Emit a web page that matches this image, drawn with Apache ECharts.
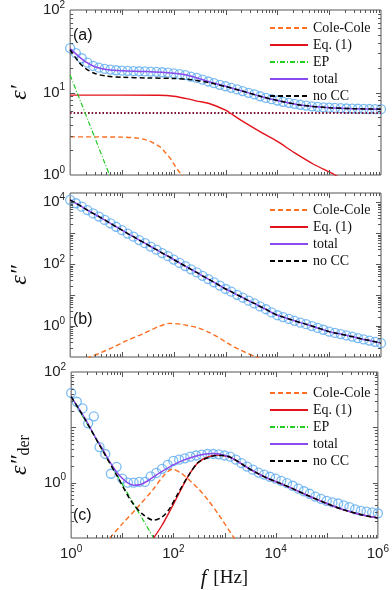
<!DOCTYPE html>
<html>
<head>
<meta charset="utf-8">
<script src="https://cdn.jsdelivr.net/npm/echarts@6/dist/echarts.min.js"></script>
<style>
  html, body { margin: 0; padding: 0; background: #fff; }
  #chart { width: 392px; height: 590px; }
</style>
</head>
<body>
<div id="chart"></div>
<script>
// measured frequencies of the open circles (Hz)
var fPts = [1, 1.29, 1.67, 2.15, 2.78, 3.59, 4.64, 5.99, 7.74,
  10, 12.9, 16.7, 21.5, 27.8, 35.9, 46.4, 59.9, 77.4,
  100, 129, 167, 215, 278, 359, 464, 599, 774,
  1000, 1290, 1670, 2150, 2780, 3590, 4640, 5990, 7740,
  1e4, 1.29e4, 1.67e4, 2.15e4, 2.78e4, 3.59e4, 4.64e4, 5.99e4, 7.74e4,
  1e5, 1.29e5, 1.67e5, 2.15e5, 2.78e5, 3.59e5, 4.64e5, 5.99e5, 7.74e5, 1e6];

// (a) eps'
var aPts = [34.6, 30, 26, 23, 21, 20, 19.3, 18.9, 18.6,
  18.4, 18.3, 18.2, 18.1, 18.0, 17.9, 17.8, 17.6, 17.4,
  17.1, 16.7, 16.2, 15.6, 15.0, 14.3, 13.6, 13.0, 12.4,
  11.9, 11.4, 10.9, 10.4, 9.9, 9.5, 9.0, 8.6, 8.3,
  8.0, 7.7, 7.5, 7.3, 7.1, 6.95, 6.8, 6.7, 6.6,
  6.55, 6.5, 6.45, 6.4, 6.38, 6.35, 6.33, 6.31, 6.3, 6.28];
var aLineF = [1, 1.5, 2, 3, 5, 10, 30, 100, 200, 500, 1000, 2000, 5000, 1e4, 3e4, 1e5, 3e5, 1e6];
var aTotal = [34, 27, 23.5, 20.5, 19, 18.3, 18.0, 17.1, 16.0, 13.4, 11.9, 10.5, 8.9, 8.0, 7.0, 6.55, 6.36, 6.28];
var aNoCC  = [33, 23, 19.5, 17, 15.8, 15.3, 15.0, 14.8, 14.4, 13.1, 11.8, 10.5, 8.9, 8.0, 7.0, 6.55, 6.36, 6.28];
var aEqF = [1, 10, 50, 100, 200, 300, 464, 1000, 1240, 2000, 5270, 1e4, 2.16e4, 5e4, 1.3e5, 3e5];
var aEq  = [9.3, 9.3, 9.25, 9.0, 8.3, 7.8, 7.4, 6.1, 5.6, 4.6, 3.2, 2.55, 1.85, 1.35, 1.0, 0.72];
var aCCF = [1, 10, 20, 30, 40, 55, 70, 85, 100, 120, 141, 170];
var aCC  = [2.9, 2.88, 2.8, 2.65, 2.45, 2.18, 1.85, 1.6, 1.36, 1.15, 1.0, 0.85];
var aEPF = [1, 5.75, 8];
var aEP  = [16.3, 1.0, 0.59];
var aInfF = [1, 1e6];
var aInf  = [5.64, 5.64];

// (b) eps''
var bPts = [12020, 9330, 7240, 5620, 4365, 3470, 2690, 2090, 1620,
  1260, 977, 776, 603, 479, 372, 295, 229, 182,
  141, 110, 87, 68, 54, 42, 33, 26, 20.4,
  15.8, 12.9, 10.2, 8.3, 6.6, 5.4, 4.3, 3.5, 2.75,
  2.24, 1.95, 1.70, 1.48, 1.29, 1.15, 1.0, 0.87, 0.76,
  0.66, 0.60, 0.55, 0.50, 0.457, 0.41, 0.37, 0.34, 0.31, 0.28];
var bCCF = [1.5, 2.45, 4, 6.5, 12, 26.7, 50, 85, 150, 300, 464, 700, 1090, 1900, 3900, 6000];
var bCC  = [0.07, 0.1, 0.14, 0.2, 0.33, 0.58, 0.95, 1.22, 1.12, 0.86, 0.64, 0.45, 0.28, 0.17, 0.1, 0.075];

// (c) eps''_der
var cPts = [42, 29, 22, 11.8, 15.8, 4.4, 3.3, 1.45, 1.93,
  1.18, 1.0, 1.0, 1.03, 1.03, 1.3, 1.5, 1.78, 2.1,
  2.47, 2.6, 2.75, 2.95, 3.1, 3.2, 3.3, 3.3, 3.25,
  3.1, 2.95, 2.6, 2.25, 1.95, 1.72, 1.52, 1.4, 1.28,
  1.18, 1.08, 0.98, 0.88, 0.78, 0.7, 0.63, 0.56, 0.51,
  0.47, 0.44, 0.42, 0.39, 0.36, 0.33, 0.31, 0.3, 0.29, 0.28];
var cLineF = [1, 1.5, 2, 3, 4, 6, 8, 10, 13, 17, 22, 30, 45, 60, 100, 150, 250, 400, 600, 900, 1500, 2500, 4000, 7000, 1.2e4, 2.15e4, 4e4, 1e5, 2e5, 5e5, 1e6];
var cTotal = [36, 20, 13, 6.5, 4.2, 2.2, 1.5, 1.2, 0.98, 0.9, 0.92, 1.05, 1.35, 1.6, 2.1, 2.5, 2.95, 3.25, 3.35, 3.2, 2.7, 2.0, 1.55, 1.2, 0.98, 0.78, 0.6, 0.42, 0.33, 0.26, 0.23];
var cNoCCF = [1, 2, 4, 8, 15.3, 25, 41, 60, 84, 130, 196, 302, 464, 700, 1000, 1500, 2500, 4000, 7000, 1.2e4, 2.15e4, 4e4, 1e5, 2e5, 5e5, 1e6];
var cNoCC  = [36, 12.5, 4.0, 1.3, 0.45, 0.27, 0.21, 0.24, 0.34, 0.7, 1.33, 2.3, 2.8, 3.1, 3.1, 2.7, 2.0, 1.55, 1.2, 0.98, 0.78, 0.6, 0.42, 0.33, 0.26, 0.23];
var cEqF = [41, 60, 84, 130, 196, 302, 464, 700, 1000, 1500, 2500, 4000, 7000, 1.2e4, 2.15e4, 4e4, 1e5, 2e5, 5e5, 1e6];
var cEq  = [0.1, 0.17, 0.3, 0.65, 1.33, 2.3, 2.9, 3.15, 3.05, 2.7, 2.0, 1.55, 1.2, 0.98, 0.78, 0.6, 0.42, 0.33, 0.26, 0.23];
var cEPF = [1, 41];
var cEP  = [36, 0.1];
var cCCF = [5.7, 10, 20, 40, 65, 95, 140, 220, 300, 464, 800, 1540, 2000];
var cCC  = [0.1, 0.18, 0.36, 0.75, 1.35, 1.75, 1.5, 1.05, 0.8, 0.5, 0.25, 0.1, 0.075];

// axis ranges
var xRange = [1, 1e6];
var yRanges = [[1, 100], [0.1, 2e4], [0.1, 100]];
var xLabelExp = [0, 2, 4, 6];
var yLabelExp = [[0, 1, 2], [0, 2, 4], [0, 2]];

var C = {
  cc: '#ff6d1f', eq: '#e3121b', ep: '#22cc22', total: '#8a4af0',
  nocc: '#000000', pts: '#5aaaf0', inf: '#7b1030', frame: '#555555'
};
var grids = [
  { left: 56, right: 11, top: 10, height: 165 },
  { left: 56, right: 11, top: 193, height: 164 },
  { left: 56, right: 11, top: 372, height: 168 }
];

function zip(fs, vs) {
  return fs.map(function (f, i) { return [f, vs[i]]; });
}

function expLabel(show, fs) {
  return {
    show: true,
    margin: fs === 'x' ? 6 : 5,
    formatter: function (v) {
      var l = Math.log10(v), e = Math.round(l);
      if (Math.abs(l - e) > 1e-6 || show.indexOf(e) < 0) return '';
      return '{b|10}{e|' + e + '}';
    },
    rich: {
      b: { fontFamily: 'Liberation Sans', fontSize: 15, color: '#222' },
      e: { fontFamily: 'Liberation Sans', fontSize: 10, color: '#222', padding: [0, 0, 10, 0] }
    }
  };
}

function ticks(lo, hi) {
  var out = [];
  for (var e = Math.floor(Math.log10(lo)) ; e <= Math.ceil(Math.log10(hi)); e++) {
    for (var m = 1; m <= 9; m++) {
      var v = m * Math.pow(10, e);
      if (v > lo * 1.0001 && v < hi * 0.9999) out.push([v, m === 1 ? 1 : 0]);
    }
  }
  return out;
}

function tickSeries(gi) {
  var yr = yRanges[gi];
  var xt = ticks(xRange[0], xRange[1]).map(function (t) { return [t[0], yr[0], t[1], 0]; });
  var yt = ticks(yr[0], yr[1]).map(function (t) { return [xRange[0], t[0], t[1], 1]; });
  return {
    type: 'custom', xAxisIndex: gi, yAxisIndex: gi, silent: true, z: 5,
    data: xt.concat(yt),
    renderItem: function (params, api) {
      var cs = params.coordSys;
      var p = api.coord([api.value(0), api.value(1)]);
      var len = api.value(2) ? 5 : 3;
      var st = { stroke: C.frame, lineWidth: 1 };
      if (api.value(3) === 0) {
        var x = Math.round(p[0]) + 0.5;
        return { type: 'group', children: [
          { type: 'line', shape: { x1: x, y1: cs.y + cs.height, x2: x, y2: cs.y + cs.height - len }, style: st },
          { type: 'line', shape: { x1: x, y1: cs.y, x2: x, y2: cs.y + len }, style: st }
        ] };
      }
      var y = Math.round(p[1]) + 0.5;
      return { type: 'group', children: [
        { type: 'line', shape: { x1: cs.x, y1: y, x2: cs.x + len, y2: y }, style: st },
        { type: 'line', shape: { x1: cs.x + cs.width, y1: y, x2: cs.x + cs.width - len, y2: y }, style: st }
      ] };
    }
  };
}

function line(name, gi, fs, vs, color, type, width) {
  return {
    name: name, type: 'line', xAxisIndex: gi, yAxisIndex: gi,
    data: zip(fs, vs), symbol: 'none', smooth: 0.3, silent: true,
    lineStyle: { color: color, type: type, width: width }, itemStyle: { color: color }, z: 3
  };
}

function pts(gi, vs) {
  return {
    type: 'scatter', xAxisIndex: gi, yAxisIndex: gi, data: zip(fPts, vs),
    symbol: 'circle', symbolSize: 9, silent: true, z: 2,
    itemStyle: { color: 'rgba(255,255,255,0)', borderColor: C.pts, borderWidth: 1.3 }
  };
}

var dash = [5, 3], dashDot = [5, 2, 1, 2], dot = [1.6, 2];

var yNames = [
  '{e|\u03b5\u2032}',
  '{e|\u03b5\u2033}',
  '{e|\u03b5\u2033}{s|der}'
];

var chart = echarts.init(document.getElementById('chart'), null, { renderer: 'canvas' });

var option = {
  animation: false,
  backgroundColor: '#fff',
  grid: grids.map(function (g) {
    return Object.assign({ show: true, borderColor: C.frame, borderWidth: 1, backgroundColor: 'transparent' }, g);
  }),
  xAxis: [0, 1, 2].map(function (gi) {
    return {
      type: 'log', gridIndex: gi, min: xRange[0], max: xRange[1], logBase: 10,
      axisLine: { show: false }, axisTick: { show: false }, splitLine: { show: false },
      axisLabel: gi === 2 ? expLabel(xLabelExp, 'x') : { show: false },
      name: gi === 2 ? '{i|f}  {t|[Hz]}' : '',
      nameLocation: 'middle', nameGap: 30,
      nameTextStyle: {
        rich: {
          i: { fontFamily: 'Liberation Serif', fontStyle: 'italic', fontSize: 21, color: '#111' },
          t: { fontFamily: 'Liberation Serif', fontSize: 19, color: '#111' }
        }
      }
    };
  }),
  yAxis: [0, 1, 2].map(function (gi) {
    return {
      type: 'log', gridIndex: gi, min: yRanges[gi][0], max: yRanges[gi][1], logBase: 10,
      axisLine: { show: false }, axisTick: { show: false }, splitLine: { show: false },
      axisLabel: expLabel(yLabelExp[gi], 'y'),
      name: yNames[gi], nameLocation: 'middle', nameRotate: 90, nameGap: gi === 2 ? 28 : 30,
      nameTextStyle: {
        rich: {
          e: { fontFamily: 'Liberation Serif', fontStyle: 'italic', fontSize: 24, color: '#111' },
          s: { fontFamily: 'Liberation Serif', fontSize: 16, color: '#111', padding: [10, 0, 0, 0] }
        }
      }
    };
  }),
  legend: [
    { data: ['Cole-Cole', 'Eq. (1)', 'EP', 'total', 'no CC'], top: 16 },
    { data: ['Cole-Cole', 'Eq. (1)', 'total', 'no CC'], top: 198 },
    { data: ['Cole-Cole', 'Eq. (1)', 'EP', 'total', 'no CC'], top: 381 }
  ].map(function (l) {
    return Object.assign({
      left: 264, orient: 'vertical', itemWidth: 38, itemHeight: 12, itemGap: 3,
      selectedMode: false,
      itemStyle: { opacity: 0, color: 'rgba(0,0,0,0)', borderWidth: 0 },
      textStyle: { fontFamily: 'Liberation Serif', fontSize: 14, color: '#111' }
    }, l);
  }),
  graphic: [
    { type: 'text', left: 73, top: 28, style: { text: '(a)', font: '16px "Liberation Sans"', fill: '#111' } },
    { type: 'text', left: 73, top: 312, style: { text: '(b)', font: '16px "Liberation Sans"', fill: '#111' } },
    { type: 'text', left: 73, top: 508, style: { text: '(c)', font: '16px "Liberation Sans"', fill: '#111' } }
  ],
  series: [
    // (a)
    pts(0, aPts),
    line('', 0, aInfF, aInf, C.inf, dot, 2.2),
    line('Cole-Cole', 0, aCCF, aCC, C.cc, dash, 1.4),
    line('Eq. (1)', 0, aEqF, aEq, C.eq, 'solid', 1.4),
    line('EP', 0, aEPF, aEP, C.ep, dashDot, 1.2),
    line('total', 0, aLineF, aTotal, C.total, 'solid', 1.5),
    line('no CC', 0, aLineF, aNoCC, C.nocc, dash, 1.5),
    tickSeries(0),
    // (b)
    pts(1, bPts),
    line('Cole-Cole', 1, bCCF, bCC, C.cc, dash, 1.4),
    line('total', 1, fPts, bPts, C.total, 'solid', 1.5),
    line('no CC', 1, fPts, bPts, C.nocc, dash, 1.5),
    tickSeries(1),
    // (c)
    pts(2, cPts),
    line('Cole-Cole', 2, cCCF, cCC, C.cc, dash, 1.4),
    line('Eq. (1)', 2, cEqF, cEq, C.eq, 'solid', 1.4),
    line('EP', 2, cEPF, cEP, C.ep, dashDot, 1.2),
    line('total', 2, cLineF, cTotal, C.total, 'solid', 1.5),
    line('no CC', 2, cNoCCF, cNoCC, C.nocc, dash, 1.5),
    tickSeries(2)
  ]
};

chart.setOption(option);
</script>
</body>
</html>
